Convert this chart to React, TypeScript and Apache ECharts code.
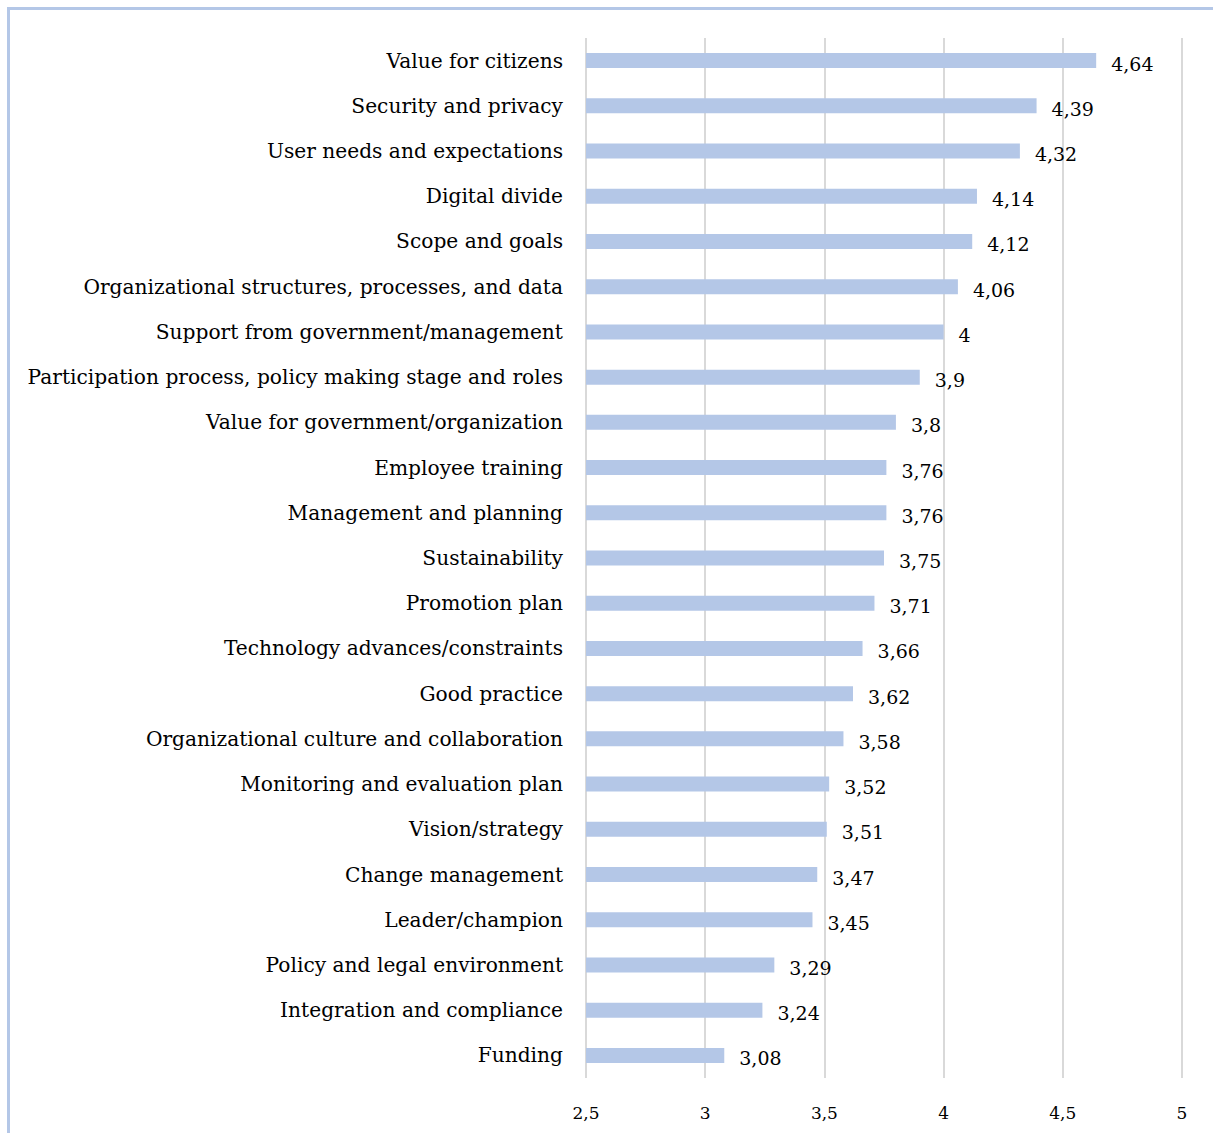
import React, { useEffect, useRef } from "react";
import * as echarts from "echarts";

const categories = [
  "Value for citizens",
  "Security and privacy",
  "User needs and expectations",
  "Digital divide",
  "Scope and goals",
  "Organizational structures, processes, and data",
  "Support from government/management",
  "Participation process, policy making stage and roles",
  "Value for government/organization",
  "Employee training",
  "Management and planning",
  "Sustainability",
  "Promotion plan",
  "Technology advances/constraints",
  "Good practice",
  "Organizational culture and collaboration",
  "Monitoring and evaluation plan",
  "Vision/strategy",
  "Change management",
  "Leader/champion",
  "Policy and legal environment",
  "Integration and compliance",
  "Funding",
];

const values = [
  4.64, 4.39, 4.32, 4.14, 4.12, 4.06, 4, 3.9, 3.8, 3.76, 3.76, 3.75, 3.71, 3.66,
  3.62, 3.58, 3.52, 3.51, 3.47, 3.45, 3.29, 3.24, 3.08,
];

const axisMin = 2.5;
const axisMax = 5;
const axisInterval = 0.5;

const FONT = "'DejaVu Serif', 'Liberation Serif', serif";

export default function App() {
  const ref = useRef<HTMLDivElement>(null);
  useEffect(() => {
    if (!ref.current) return;
    const chart = echarts.init(ref.current, undefined, { renderer: "svg" });
    chart.setOption({
      animation: false,
      backgroundColor: "#ffffff",
      graphic: [
        {
          type: "line",
          shape: { x1: 7, y1: 8.5, x2: 1213, y2: 8.5 },
          style: { stroke: "#B4C7E7", lineWidth: 3 },
        },
        {
          type: "line",
          shape: { x1: 8.5, y1: 7, x2: 8.5, y2: 1133 },
          style: { stroke: "#B4C7E7", lineWidth: 3 },
        },
      ],
      grid: { left: 586, right: 31, top: 38, bottom: 55, containLabel: false },
      xAxis: {
        type: "value",
        min: axisMin,
        max: axisMax,
        interval: axisInterval,
        axisLine: { show: false },
        axisTick: { show: false },
        splitLine: { show: true, lineStyle: { color: "#D9D9D9", width: 2 } },
        axisLabel: {
          margin: 26,
          fontFamily: FONT,
          fontSize: 17,
          color: "#000",
          formatter: (v: number) => String(v).replace(".", ","),
        },
      },
      yAxis: {
        type: "category",
        data: categories,
        inverse: true,
        axisLine: { show: false },
        axisTick: { show: false },
        axisLabel: {
          margin: 23,
          fontFamily: FONT,
          fontSize: 20.2,
          color: "#000",
        },
      },
      series: [
        {
          type: "bar",
          data: values,
          barWidth: 15,
          itemStyle: { color: "#B4C7E7" },
          label: {
            show: true,
            position: "right",
            distance: 15,
            offset: [0, 3],
            fontFamily: FONT,
            fontSize: 19,
            color: "#000",
            formatter: (p: any) => String(p.value).replace(".", ","),
          },
        },
      ],
    });
    return () => chart.dispose();
  }, []);
  return (
    <div
      ref={ref}
      style={{ position: "fixed", left: 0, top: 0, width: 1213, height: 1133 }}
    />
  );
}
